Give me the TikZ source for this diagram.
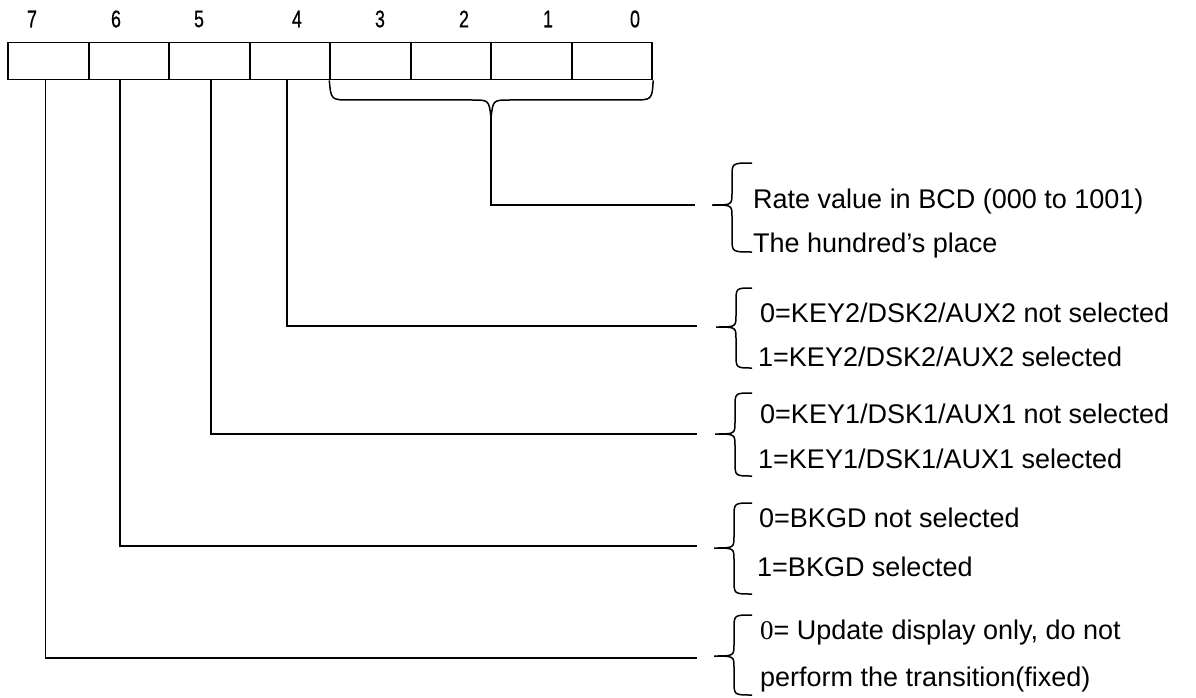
\documentclass[tikz,border=0pt]{standalone}
\usepackage{fontspec}
\usepackage{graphicx}
\setmainfont{Liberation Sans}
\newfontfamily\serifzero{Liberation Serif}
\tikzset{
  cell/.style={draw, line width=1.9pt, minimum width=80.5pt, minimum height=37pt, inner sep=0pt},
  bitnum/.style={inner sep=0pt, font=\fontsize{24}{26}\selectfont},
  wire/.style={line width=1.6pt},
  brc/.style={line width=1.5pt},
  lbl/.style={anchor=base west, inner sep=0pt, font=\fontsize{27}{30}\selectfont},
}
\newcommand\mybrace[5]{% tipx, top, tipy, bottom, rightx
  \draw[brc] (#5,#2) .. controls ({#1+20},#2) .. ({#1+20},{#2+14}) -- ({#1+20},{#3-12})
    .. controls ({#1+20},#3) .. (#1,#3) .. controls ({#1+20},#3) .. ({#1+20},{#3+12})
    -- ({#1+20},{#4-14}) .. controls ({#1+20},#4) .. (#5,#4);}
\newcommand\bitdigit[1]{\scalebox{0.74}[1]{\addfontfeature{FakeBold=0.8}#1}}
\begin{document}
\begin{tikzpicture}[x=1pt,y=-1pt]
\useasboundingbox[fill=white] (0,0) rectangle (1196,698);
% register cells
\node[cell] (b7) at (48.5,61) {};
\node[cell] (b6) at (129,61) {};
\node[cell] (b5) at (209.5,61) {};
\node[cell] (b4) at (290,61) {};
\node[cell] (b3) at (370.5,61) {};
\node[cell] (b2) at (451,61) {};
\node[cell] (b1) at (531.5,61) {};
\node[cell] (b0) at (612,61) {};
% bit numbers
\node[bitnum] (n7) at (32,19) {\bitdigit{7}};
\node[bitnum] (n6) at (116,19) {\bitdigit{6}};
\node[bitnum] (n5) at (199,19) {\bitdigit{5}};
\node[bitnum] (n4) at (297,19) {\bitdigit{4}};
\node[bitnum] (n3) at (380,19) {\bitdigit{3}};
\node[bitnum] (n2) at (464,19) {\bitdigit{2}};
\node[bitnum] (n1) at (548,19) {\bitdigit{1}};
\node[bitnum] (n0) at (635,19) {\bitdigit{0}};
% brace under bits 3..0
\draw[brc] (b3.south west) .. controls (331,100) .. (351,100) -- (472,100)
   .. controls (489,100) .. (491,118) coordinate (btip)
   .. controls (493,100) .. (510,100) -- (632,100) .. controls (652,100) .. (b0.south east);
\coordinate (e0) at (695,205);
\draw[wire] (btip) |- (e0);
% wires from bits
\coordinate (s4) at (287,80); \coordinate (e4) at (697,326);
\coordinate (s5) at (211,80); \coordinate (e5) at (697,434);
\coordinate (s6) at (120,80); \coordinate (e6) at (697,546);
\coordinate (s7) at (45.5,80); \coordinate (e7) at (697,658);
\draw[wire] (s4) |- (e4);
\draw[wire] (s5) |- (e5);
\draw[wire] (s6) |- (e6);
\draw[wire] (s7) |- (e7);
% braces
\mybrace{712}{163}{205}{252}{752}
\mybrace{716}{288}{327}{368}{752}
\mybrace{715}{393}{434}{476}{752}
\mybrace{714}{503}{548}{594}{752}
\mybrace{714}{615}{656}{695}{752}
% labels
\node[lbl] (t1a) at (753,208) {Rate value in BCD (000 to 1001)};
\begin{scope}
\clip (740,220) rectangle (1196,257);
\node[lbl] (t1b) at (753,252) {The hundred’s place};
\end{scope}
\node[lbl] (t2a) at (760,322) {0=KEY2/DSK2/AUX2 not selected};
\node[lbl] (t2b) at (758,366) {1=KEY2/DSK2/AUX2 selected};
\node[lbl] (t3a) at (760,423) {0=KEY1/DSK1/AUX1 not selected};
\node[lbl] (t3b) at (758,468) {1=KEY1/DSK1/AUX1 selected};
\node[lbl] (t4a) at (759,527) {0=BKGD not selected};
\node[lbl] (t4b) at (757,576) {1=BKGD selected};
\node[lbl] (t5a) at (760,639) {{\serifzero 0}= Update display only, do not};
\node[lbl] (t5b) at (760,686) {perform the transition(fixed)};
\end{tikzpicture}
\end{document}
